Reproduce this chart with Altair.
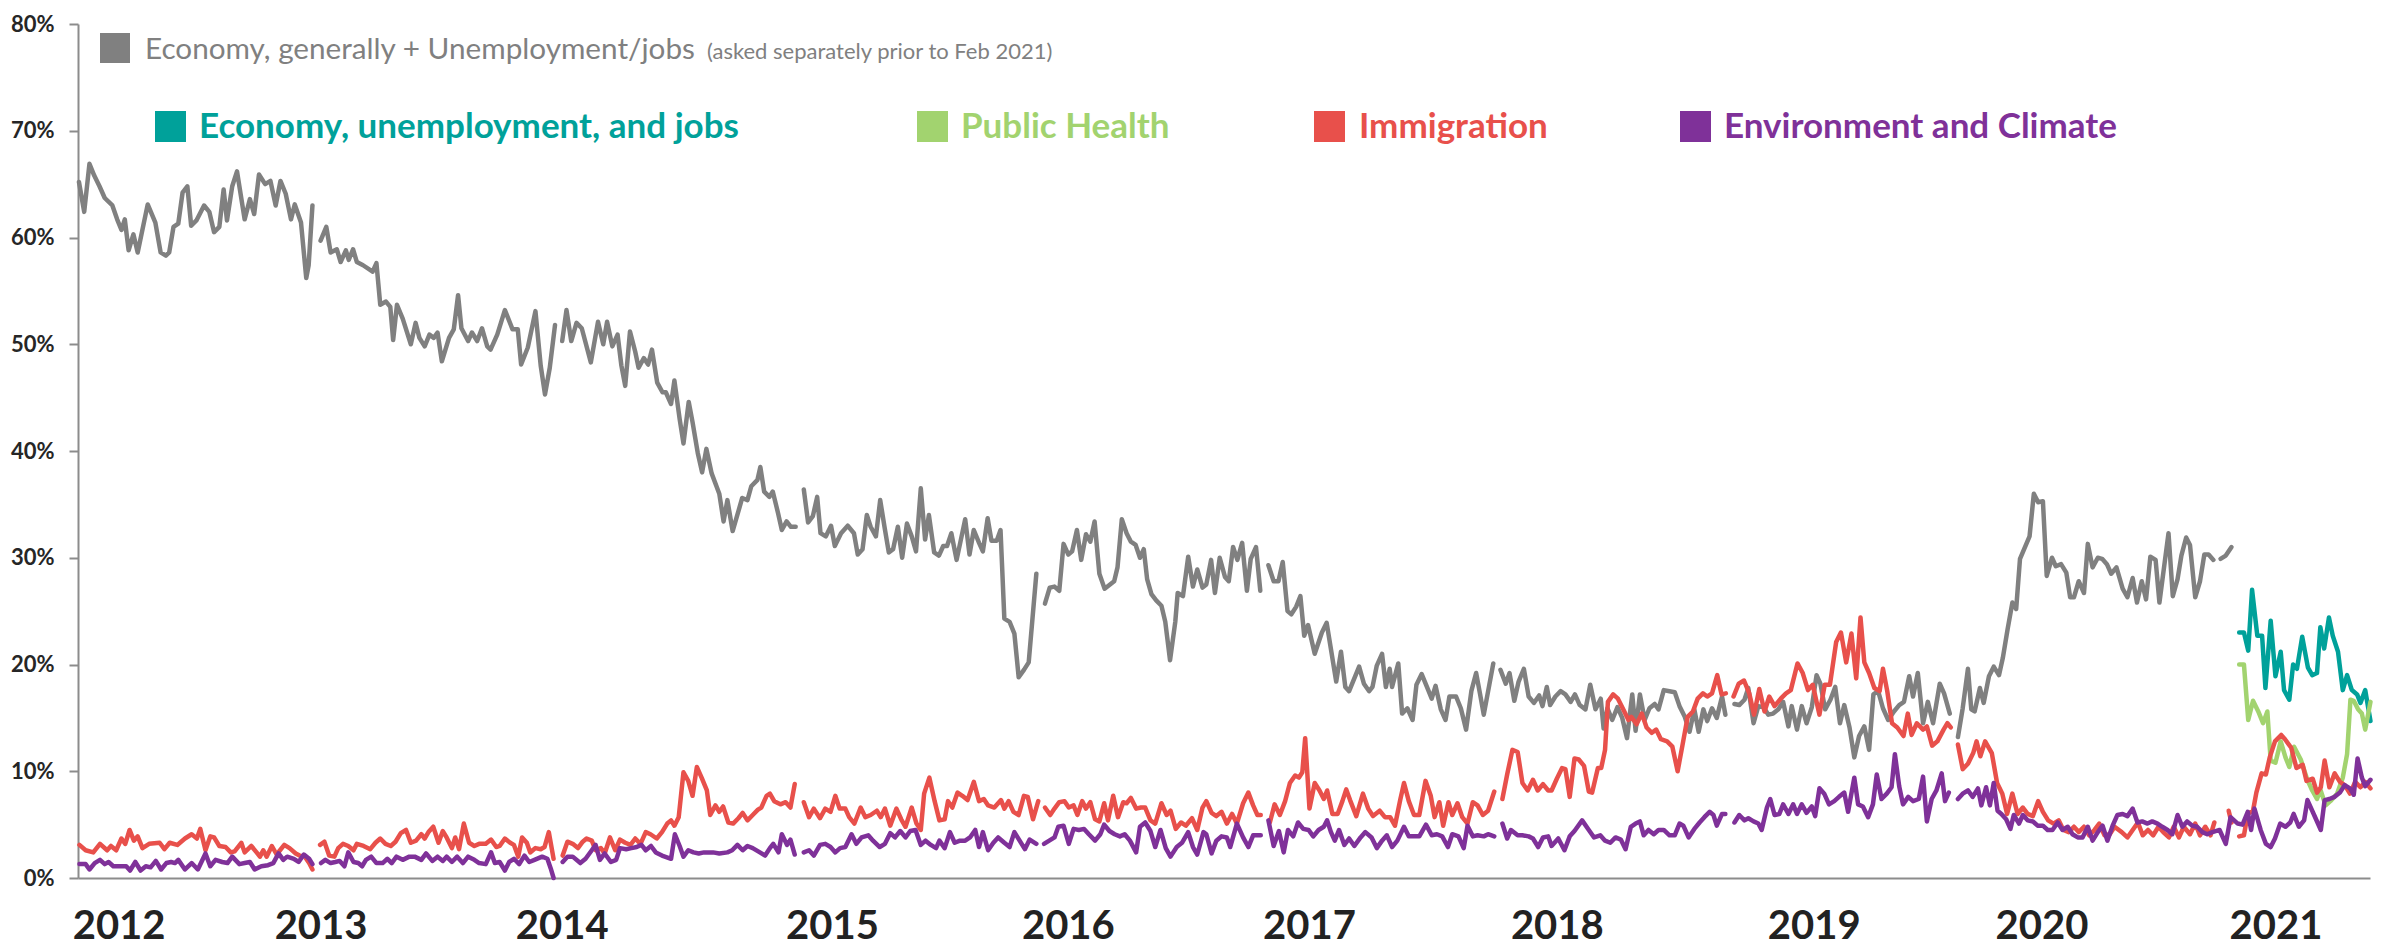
import altair as alt
import pandas as pd

# ---------------- data (week index of poll, percent) ----------------
# Economy, generally + Unemployment/jobs  (segments separated where the line breaks)
ECON_GENERAL = [
    [(0.2,65.2),(1.3,62.4),(2.4,66.9),(3.4,65.8),(4.5,64.8),(5.6,63.7),(7.2,63.0),(8.2,61.7),(9.1,60.7),(9.8,61.7),
     (10.6,58.8),(11.6,60.3),(12.5,58.6),(14.6,63.1),(16.2,61.4),(17.3,58.6),(18.4,58.3),(19.1,58.6),(20.0,61.0),(21.0,61.3),
     (21.9,64.2),(22.9,64.8),(23.7,61.1),(24.8,61.6),(26.4,63.0),(27.5,62.4),(28.5,60.5),(29.6,61.0),(30.5,64.5),(31.2,61.6),
     (32.3,64.8),(33.3,66.2),(34.9,61.7),(36.0,63.6),(36.9,62.2),(37.9,65.9),(39.2,65.0),(40.3,65.3),(41.4,63.0),(42.4,65.3),
     (43.5,64.1),(44.6,61.7),(45.4,63.1),(46.7,61.4),(47.8,56.2),(48.3,57.4),(49.1,63.0)],
    [(50.8,59.7),(52.0,61.0),(52.9,58.6),(54.2,58.9),(55.0,57.7),(56.1,58.8),(56.7,57.9),(57.6,58.9),(58.4,57.7),(59.7,57.4),
     (61.7,56.8),(62.5,57.6),(63.3,53.7),(64.5,54.0),(65.4,53.5),(66.0,50.4),(66.8,53.7),(68.0,52.4),(69.7,50.0),(70.7,52.0),
     (71.5,50.6),(72.6,49.8),(73.6,50.9),(74.5,50.6),(75.3,51.1),(76.2,48.4),(77.7,50.6),(78.7,51.4),(79.6,54.6),(80.3,51.5),
     (81.7,50.3),(82.5,51.1),(83.6,50.3),(84.6,51.5),(85.7,49.8),(86.4,49.5),(87.8,50.9),(89.4,53.2),(91.0,51.4),(92.1,51.4),
     (92.8,48.1),(94.2,49.7),(95.8,53.1),(96.9,48.0),(97.8,45.3),(98.8,47.8),(99.9,51.8)],
    [(101.4,50.3),(102.3,53.2),(103.3,50.3),(104.4,52.0),(105.5,51.5),(107.4,48.3),(108.9,52.1),(110.0,50.0),(110.8,52.1),
     (111.9,49.8),(113.0,50.9),(113.8,48.0),(114.6,46.1),(115.6,51.2),(116.7,49.3),(117.4,47.8),(118.5,48.7),(119.4,48.1),
     (120.2,49.5),(121.3,46.4),(122.4,45.5),(123.1,45.5),(124.2,44.4),(124.9,46.6),(126.0,43.0),(126.8,40.7),(127.9,44.6),
     (128.7,42.7),(129.8,39.8),(130.7,38.0),(131.6,40.2),(132.7,37.9),(134.3,36.0),(135.2,33.4),(136.0,35.4),(137.1,32.5),
     (138.4,34.5),(139.1,35.6),(140.2,35.4),(141.0,36.7),(142.3,37.3),(142.9,38.5),(143.7,36.2),(144.8,35.7),(145.5,36.2),
     (146.6,34.2),(147.4,32.6),(148.4,33.4),(149.3,32.9),(150.3,32.9)],
    [(152.0,36.4),(152.9,33.3),(153.9,33.9),(154.8,35.7),(155.5,32.3),(156.6,32.0),(157.7,33.0),(158.5,31.1),(159.8,32.3),
     (161.2,33.0),(162.5,32.3),(163.3,30.3),(164.3,30.8),(165.2,34.0),(166.0,32.9),(167.1,32.0),(168.0,35.4),(168.9,32.9),
     (169.8,30.5),(170.7,30.8),(171.7,32.9),(172.6,30.0),(173.6,33.2),(174.6,32.0),(175.5,30.6),(176.5,36.5),(177.4,31.7),
     (178.2,34.0),(179.3,30.5),(180.3,30.2),(181.2,31.1),(182.0,31.1),(182.9,32.3),(184.0,29.8),(184.9,31.7),(185.8,33.6),
     (186.7,30.3),(187.6,32.6),(188.7,31.4),(189.5,30.6),(190.5,33.7),(191.3,31.6),(192.4,31.6),(193.2,32.6),(194.0,24.3),
     (195.1,24.0),(196.1,22.9),(197.0,18.8),(198.1,19.5),(199.1,20.2),(200.7,28.5)],
    [(202.5,25.7),(203.5,27.2),(204.5,27.3),(205.5,26.9),(206.4,31.3),(207.4,30.3),(208.2,30.6),(209.2,32.6),(210.1,29.8),
     (211.1,32.2),(212.0,31.5),(212.9,33.4),(213.9,28.5),(215.0,27.1),(217.0,27.8),(217.7,29.1),(218.6,33.6),(219.6,32.3),
     (220.5,31.5),(221.5,31.2),(222.4,30.0),(223.2,30.8),(223.9,28.0),(224.8,26.6),(225.8,26.0),(226.9,25.5),(227.7,24.0),
     (228.7,20.4),(229.8,24.0),(230.3,26.7),(231.4,26.4),(232.5,30.1),(233.5,27.3),(234.4,28.9),(235.5,27.2),(236.3,27.5),
     (237.3,29.8),(238.1,26.7),(239.1,30.0),(240.2,28.2),(241.0,27.8),(241.9,31.0),(242.8,29.8),(243.8,31.4),(244.8,26.9),
     (245.6,29.9),(246.7,31.0),(247.6,26.9)],
    [(249.3,29.3),(250.4,27.8),(251.4,27.8),(252.3,29.6),(253.3,25.0),(254.1,24.7),(255.1,25.4),(256.0,26.4),(256.8,22.7),
     (257.6,23.7),(259.0,21.0),(260.5,23.0),(261.5,23.9),(263.5,18.4),(264.5,21.2),(265.4,17.9),(266.2,17.5),(268.3,19.8),
     (269.3,18.2),(270.4,17.5),(271.1,17.9),(272.0,19.9),(273.1,21.0),(273.9,17.9),(274.7,19.6),(275.2,17.9),(276.5,20.1),
     (277.3,15.4),(278.4,15.9),(279.5,14.8),(280.3,18.1),(281.4,19.1),(282.5,17.9),(283.5,16.8),(284.3,18.0),(285.4,15.8),
     (286.4,14.8),(287.2,17.0),(288.6,17.0),(289.6,15.9),(290.7,13.9),(291.8,17.5),(292.8,19.2),(293.6,17.3),(294.4,15.3),
     (296.4,20.1)],
    [(297.9,19.5),(299.0,18.2),(299.8,19.2),(300.8,16.6),(301.7,18.4),(302.8,19.6),(303.8,17.0),(304.9,16.4),(306.0,17.1),
     (306.7,16.1),(307.6,17.9),(308.3,16.2),(309.4,17.0),(310.5,17.5),(311.5,17.2),(312.6,16.5),(313.5,17.2),(314.5,16.2),
     (315.7,15.8),(316.7,18.1),(317.8,15.8),(318.9,16.8),(319.5,14.0),(320.3,15.9),(321.3,14.8),(322.4,16.0),(323.4,15.0),
     (324.4,13.1),(325.5,17.2),(326.2,13.8),(327.1,17.2),(328.1,14.8),(329.1,15.9),(330.2,16.3),(331.0,15.8),(332.1,17.6),
     (333.3,17.5),(334.4,17.4),(335.4,16.1),(336.5,15.1),(337.5,13.7),(338.5,15.8),(339.4,13.7),(340.4,15.8),(341.2,14.7),
     (342.2,15.9),(343.2,15.0),(344.3,17.0),(345.0,15.3)],
    [(346.9,16.3),(347.9,16.2),(349.0,16.7),(349.8,17.8),(350.9,14.5),(351.9,16.1),(353.0,16.0),(354.0,15.3),(355.0,15.4),
     (356.1,15.8),(357.1,16.5),(358.2,14.2),(358.9,16.1),(360.0,13.9),(361.0,16.1),(362.0,14.5),(363.1,16.0),(364.1,19.0),
     (364.9,18.2),(365.9,15.8),(367.0,16.7),(368.0,17.9),(369.0,14.5),(369.9,16.2),(371.0,14.1),(372.0,11.3),(373.0,13.3),
     (374.1,14.2),(375.1,12.0),(376.0,17.2),(377.0,17.5),(378.0,15.9),(379.1,14.8),(380.3,15.6),(381.4,16.2),(382.4,16.5),
     (383.5,18.9),(384.3,17.0),(385.3,19.2),(386.4,14.5),(387.4,16.5),(388.5,14.5),(389.9,18.2),(390.8,17.3),(392.0,15.4)],
    [(393.7,13.2),(394.7,15.9),(395.8,19.6),(396.5,15.8),(397.2,15.6),(398.3,17.8),(399.1,16.4),(400.2,18.9),(401.2,19.8),
     (402.3,19.0),(403.1,20.6),(404.1,23.3),(405.1,25.8),(405.9,25.2),(406.7,29.9),(408.7,32.0),(409.6,36.0),(410.5,35.2),
     (411.5,35.3),(412.3,28.3),(413.4,30.0),(414.2,29.2),(415.3,29.4),(416.4,28.6),(417.2,26.3),(418.0,26.3),(419.0,27.8),
     (420.1,26.7),(420.9,31.3),(421.9,29.1),(423.0,30.0),(423.9,29.9),(424.9,29.4),(425.8,28.5),(426.9,29.1),(428.2,27.1),
     (429.2,26.3),(430.3,28.1),(431.2,25.8),(432.2,27.8),(433.1,26.1),(434.0,30.1),(435.1,29.8),(435.9,25.8),(437.8,32.3),
     (438.7,26.4),(439.7,28.0),(440.5,30.2),(441.5,31.9),(442.3,31.2),(443.4,26.3),(444.4,27.8),(445.3,30.3),(446.2,30.3),
     (447.2,29.8)],
    [(448.7,29.9),(449.8,30.2),(451.0,31.0)],
]

# Economy, unemployment, and jobs (asked as one item from Feb 2021)
ECON_JOBS = [
    [(452.6,23.0),(453.6,23.0),(454.5,21.3),(455.3,27.0),(456.4,22.7),(457.4,22.7),(458.1,17.8),(459.2,24.1),(460.2,18.9),
     (461.3,21.2),(462.0,17.6),(463.1,16.7),(463.9,20.0),(464.7,19.6),(465.8,22.6),(467.0,19.7),(467.9,19.0),(468.9,19.2),
     (469.6,23.5),(470.4,21.5),(471.4,24.4),(472.2,22.7),(473.3,21.2),(474.3,17.6),(475.2,19.0),(476.2,17.6),(477.3,17.2),
     (478.0,16.4),(479.0,17.6),(480.1,14.7)],
]

PUBLIC_HEALTH = [
    [(452.6,20.0),(453.6,20.0),(454.5,14.8),(455.5,16.6),(456.6,15.6),(457.6,14.5),(458.5,15.6),(459.2,11.0),(460.2,10.8),
     (461.3,12.8),(462.3,11.3),(463.1,10.4),(464.1,12.3),(465.5,11.1),(466.8,9.3),(467.9,8.2),(468.9,7.4),(469.6,8.3),
     (470.7,6.8),(471.7,7.2),(473.1,7.9),(474.3,9.4),(475.2,11.6),(475.9,16.7),(476.6,16.6),(477.5,15.8),(478.3,15.4),
     (479.0,13.9),(480.1,16.5)],
]

IMMIGRATION = [
    [(0.3,3.1),(1.6,2.6),(3.2,2.4),(4.6,3.2),(6.1,2.6),(6.9,3.0),(8.0,2.6),(9.1,3.7),(9.9,3.2),(10.8,4.5),(11.7,3.5),
     (12.5,3.9),(13.5,2.8),(14.9,3.2),(17.1,3.3),(18.1,2.7),(19.2,3.3),(20.8,3.1),(22.4,3.7),(23.8,4.1),(24.9,3.7),(25.6,4.6),
     (26.7,2.6),(27.7,3.9),(28.5,3.8),(29.6,3.0),(30.9,2.9),(32.0,2.4),(32.8,2.5),(34.2,3.3),(34.9,2.4),(36.3,3.0),(37.4,2.4),
     (38.1,2.0),(38.8,2.6),(39.5,2.0),(40.6,3.0),(41.6,2.2),(43.2,3.1),(44.3,2.8),(45.6,2.3),(46.4,2.1),(47.5,2.0),(48.4,1.4),
     (49.1,0.8)],
    [(50.7,3.1),(51.6,3.4),(52.6,2.1),(53.7,2.0),(54.5,2.8),(55.5,3.2),(56.6,3.0),(57.7,2.6),(58.4,3.2),(59.8,3.0),(61.2,2.7),
     (62.3,3.3),(63.3,3.7),(64.4,3.2),(65.5,3.0),(66.5,3.4),(67.6,4.2),(68.7,4.5),(69.7,3.3),(70.8,3.5),(71.9,4.1),(72.6,3.7),
     (73.4,4.3),(74.4,4.8),(75.5,3.3),(76.4,4.4),(77.2,3.8),(78.3,2.8),(79.0,3.8),(79.8,2.7),(80.8,5.1),(81.9,3.3),(83.0,3.0),
     (84.0,3.2),(85.4,3.2),(86.5,3.6),(87.6,2.9),(88.3,3.0),(89.4,3.7),(90.5,3.3),(91.3,3.1),(92.2,2.0),(93.0,3.8),(94.0,3.3),
     (94.7,2.4),(95.8,2.8),(96.9,2.7),(97.7,2.9),(98.6,4.3),(99.6,1.8)],
    [(101.5,2.1),(102.5,3.4),(103.6,3.2),(104.7,2.8),(105.7,3.4),(106.5,3.7),(107.6,3.5),(108.4,2.6),(109.5,2.8),(110.3,2.3),
     (111.4,3.8),(112.5,2.6),(113.5,3.6),(114.6,3.3),(115.7,3.1),(116.7,3.7),(117.8,3.2),(118.9,4.3),(119.9,4.1),(121.2,3.7),
     (122.3,4.3),(123.4,5.1),(124.2,5.4),(124.9,4.9),(125.8,5.7),(126.8,9.9),(127.8,9.1),(128.7,7.7),(129.6,10.4),(130.6,9.4),
     (131.7,8.2),(132.4,5.9),(133.5,6.8),(134.3,6.2),(135.1,6.7),(136.2,5.2),(137.2,5.1),(138.3,5.6),(139.2,6.1),(140.2,5.4),
     (141.3,5.9),(142.4,6.4),(143.1,6.6),(144.2,7.7),(144.9,7.9),(145.8,7.2),(147.1,6.9),(148.2,7.1),(149.2,6.6),(150.1,8.8)],
    [(152.0,7.1),(153.1,5.7),(154.1,6.5),(155.4,5.6),(156.5,6.5),(157.6,6.2),(158.6,7.7),(159.5,6.5),(160.7,6.5),(161.5,5.7),
     (162.6,5.1),(163.9,6.6),(164.9,5.7),(166.0,5.9),(167.3,6.3),(168.1,5.7),(169.0,6.5),(170.1,4.9),(171.4,6.5),(172.4,5.5),
     (173.3,4.8),(174.6,6.6),(175.6,5.1),(176.5,4.5),(177.2,7.9),(178.3,9.4),(179.4,7.2),(180.4,5.4),(181.5,5.5),(182.2,7.2),
     (183.1,6.6),(184.2,8.0),(185.2,7.7),(186.3,7.3),(187.6,9.0),(188.7,7.2),(189.7,7.4),(190.6,6.8),(191.9,6.6),(193.3,7.3),
     (194.0,6.5),(194.9,7.2),(195.9,6.2),(197.0,5.9),(198.1,7.7),(198.9,7.6),(200.0,5.5),(201.1,7.2)],
    [(202.5,6.6),(203.6,5.9),(204.5,6.5),(205.5,7.1),(206.6,7.2),(207.5,6.6),(208.5,6.8),(209.3,5.9),(210.3,7.2),(211.1,6.5),
     (212.0,7.1),(213.0,5.5),(213.9,5.3),(214.9,7.0),(215.7,5.4),(216.8,7.7),(217.8,5.7),(218.9,7.1),(219.6,7.0),(220.5,7.5),
     (221.6,6.5),(222.6,6.6),(223.5,6.6),(224.6,5.4),(225.6,5.1),(226.9,7.0),(228.0,5.9),(228.8,6.3),(229.9,4.6),(231.0,5.2),
     (232.0,4.9),(233.3,5.6),(234.4,4.5),(235.5,6.6),(236.3,7.2),(237.4,6.1),(238.4,5.8),(239.5,6.2),(240.6,5.1),(241.7,6.0),
     (242.7,5.1),(244.0,7.0),(245.1,8.0),(246.1,6.8),(247.0,5.9),(247.7,5.9)],
    [(249.6,5.2),(250.6,6.9),(251.7,5.9),(252.8,7.2),(253.8,8.9),(254.9,9.6),(255.7,9.4),(256.4,9.9),(257.0,13.1),(257.9,6.5),
     (259.0,8.9),(260.0,8.2),(260.9,7.4),(261.6,8.2),(262.7,6.0),(263.8,6.0),(264.8,7.2),(265.6,8.3),(266.4,7.3),(267.7,5.8),
     (269.1,7.9),(270.2,6.5),(271.2,5.8),(272.6,6.3),(273.7,5.7),(274.8,5.7),(275.8,4.9),(276.9,7.3),(277.7,8.9),(278.7,7.2),
     (279.8,5.9),(280.9,5.9),(282.2,9.1),(283.3,7.7),(284.1,5.7),(285.1,7.1),(285.9,4.9),(287.0,7.1),(287.8,5.9),(288.9,7.0),
     (289.9,5.7),(291.0,5.1),(292.1,7.1),(293.1,6.8),(294.2,5.9),(295.3,6.3),(296.6,8.1)],
    [(298.3,7.4),(299.3,9.7),(300.4,12.0),(301.5,11.8),(302.5,8.9),(303.6,8.2),(304.7,9.2),(305.7,8.2),(306.8,8.8),(307.9,8.2),
     (308.6,8.2),(309.7,9.3),(310.8,10.3),(311.5,10.2),(312.4,7.6),(313.4,11.2),(314.3,11.1),(315.4,10.5),(316.4,8.1),
     (317.1,8.0),(318.3,10.3),(319.0,10.3),(319.8,12.0),(320.4,16.5),(321.5,17.2),(322.5,16.8),(323.6,15.8),(324.7,14.8),
     (325.3,15.1),(326.4,14.4),(327.5,15.4),(328.5,14.1),(329.6,13.6),(330.5,13.9),(331.5,13.0),(332.8,12.8),(333.9,12.3),
     (335.0,10.0),(336.0,12.4),(337.1,15.1),(338.2,15.6),(339.2,16.8),(340.3,17.3),(341.2,17.0),(342.2,17.3),(343.3,19.0),
     (344.2,17.2),(345.1,17.3)],
    [(346.7,17.0),(347.8,18.2),(348.9,18.5),(350.0,17.3),(351.0,15.3),(352.1,17.7),(353.2,15.6),(354.2,17.0),(355.3,16.1),
     (356.6,16.8),(357.7,17.3),(358.7,17.6),(360.1,20.1),(361.2,19.2),(362.3,17.6),(363.3,18.1),(364.7,15.3),(365.8,18.1),
     (366.9,18.1),(368.2,22.1),(369.2,23.0),(370.3,20.2),(371.4,22.9),(372.4,18.7),(373.3,24.4),(374.1,20.2),(375.1,19.2),
     (376.2,17.8),(377.3,17.5),(378.0,19.6),(378.9,17.5),(379.9,14.5),(381.0,14.1),(382.3,13.3),(383.2,15.4),(384.0,13.4),
     (385.1,14.5),(386.4,13.9),(387.2,14.2),(388.3,12.4),(389.4,12.8),(390.7,13.9),(391.5,14.5),(392.2,14.1)],
    [(393.7,12.5),(394.7,10.2),(395.8,10.7),(396.9,11.7),(397.6,12.8),(398.4,11.4),(399.4,12.8),(400.8,11.7),(401.9,8.9),
     (403.0,7.9),(404.0,6.0),(405.1,7.9),(406.2,6.0),(407.3,6.6),(408.3,6.0),(409.4,5.8),(410.5,7.2),(411.5,6.2),(412.6,5.4),
     (413.7,5.1),(414.8,5.4),(415.8,4.5),(416.9,4.3),(418.0,4.8),(419.0,4.3),(420.1,4.8),(421.2,4.0),(422.3,4.5),(423.3,5.1),
     (424.4,4.0),(425.5,4.1),(426.5,4.8),(428.0,4.3),(429.2,3.8),(430.3,4.5),(431.4,5.2),(432.4,4.0),(433.5,4.5),(434.6,4.0),
     (435.7,4.8),(436.7,4.3),(437.9,3.8),(438.9,4.8),(440.0,3.8),(441.0,4.8),(442.3,4.1),(443.4,5.1),(444.4,4.0),(445.5,4.8),
     (446.6,4.0),(447.4,5.2)],
    [(450.4,6.3),(451.0,5.2)],
    [(452.6,3.9),(453.6,4.0),(454.4,6.0),(455.5,6.3),(456.2,8.0),(457.3,9.8),(458.2,9.7),(459.0,11.3),(460.1,12.8),(461.4,13.4),
     (462.2,13.0),(463.5,12.2),(464.6,10.3),(465.9,10.6),(466.7,9.1),(468.0,9.3),(468.9,8.0),(469.7,8.5),(470.5,11.0),(471.5,8.5),
     (472.6,9.8),(473.7,9.0),(474.7,8.7),(475.8,7.9),(476.9,9.0),(478.0,8.5),(479.0,9.0),(480.1,8.4)],
]

ENVIRONMENT = [
    [(0.3,1.3),(1.6,1.3),(2.4,0.8),(3.5,1.4),(4.6,1.7),(5.6,1.3),(6.4,1.5),(7.4,1.1),(9.0,1.1),(10.1,1.1),(10.9,0.7),(12.0,1.5),
     (13.1,0.7),(14.2,1.1),(15.2,1.0),(16.3,1.6),(17.4,0.8),(18.5,1.4),(19.5,1.5),(20.3,1.4),(21.0,1.7),(22.4,0.8),(23.8,1.4),
     (25.1,0.8),(26.7,2.3),(27.7,1.1),(28.8,1.7),(30.2,1.5),(31.3,1.4),(32.3,2.0),(33.8,1.3),(34.9,1.4),(36.0,1.5),(37.0,0.8),
     (38.4,1.1),(39.8,1.2),(40.9,1.4),(42.0,2.3),(43.0,1.7),(43.8,2.0),(45.2,1.8),(46.2,1.5),(47.3,2.2),(48.4,1.8),(49.1,1.3)],
    [(50.9,1.4),(51.8,1.7),(52.9,1.4),(53.9,1.5),(54.8,1.6),(55.8,1.1),(56.6,2.4),(57.7,1.5),(58.7,1.4),(59.5,1.1),(60.3,1.7),
     (61.4,2.0),(62.5,1.4),(63.8,1.4),(64.8,1.8),(65.7,1.4),(66.7,2.0),(68.0,1.7),(69.4,2.0),(70.5,2.0),(71.9,1.7),(72.9,2.3),
     (74.2,1.6),(75.3,2.0),(76.4,1.6),(77.2,2.0),(78.3,1.5),(79.4,2.0),(80.6,1.4),(81.7,2.0),(83.0,1.7),(84.0,1.4),(85.4,1.3),
     (86.5,2.4),(87.3,1.4),(88.3,1.5),(89.4,0.7),(90.3,1.5),(91.3,1.8),(92.4,1.3),(93.5,2.1),(94.5,1.5),(95.6,1.7),(97.2,2.0),
     (98.3,1.8),(99.0,0.9),(99.6,0.0)],
    [(101.5,1.5),(102.5,2.0),(103.6,2.0),(105.2,1.4),(106.3,1.8),(107.6,2.6),(108.4,3.1),(109.3,1.7),(110.3,2.3),(111.6,1.5),
     (112.7,1.7),(113.5,2.8),(114.8,2.7),(115.9,2.8),(117.0,2.9),(118.0,3.1),(118.9,2.6),(120.0,3.0),(121.0,2.4),(122.3,2.1),
     (124.2,1.8),(125.0,4.1),(126.0,3.0),(126.8,2.0),(127.8,2.6),(128.9,2.4),(130.0,2.3),(131.1,2.4),(133.0,2.4),(134.3,2.3),
     (136.0,2.4),(137.0,2.6),(138.1,3.1),(139.2,2.6),(140.2,3.0),(141.3,2.8),(142.8,2.4),(143.9,2.1),(144.9,2.8),(145.6,3.2),
     (146.7,2.4),(147.4,4.1),(148.5,3.1),(149.2,3.6),(150.1,2.2)],
    [(152.0,2.4),(153.1,2.6),(154.1,2.1),(155.4,3.1),(156.5,3.2),(157.6,2.9),(158.6,2.4),(159.6,2.8),(160.7,2.9),(162.0,4.1),
     (163.0,3.2),(164.1,3.8),(165.5,4.0),(166.5,3.5),(167.9,2.9),(169.0,3.2),(170.1,4.2),(171.1,3.8),(172.2,4.4),(173.3,3.8),
     (174.3,4.4),(175.4,4.5),(176.5,3.1),(177.5,3.5),(178.6,3.1),(179.7,2.8),(180.4,3.5),(181.5,2.8),(182.6,4.3),(183.6,3.3),
     (184.7,3.5),(185.8,3.5),(186.8,3.8),(187.9,4.5),(188.7,2.9),(189.5,4.3),(190.6,2.6),(191.7,3.3),(192.7,3.8),(194.0,3.3),
     (195.1,2.9),(196.1,4.3),(197.2,3.5),(198.3,2.7),(199.3,3.6),(200.7,3.2)],
    [(202.3,3.2),(203.4,3.5),(204.5,3.8),(205.3,4.8),(206.4,4.9),(207.5,3.2),(208.5,4.6),(209.6,4.5),(210.7,4.6),(211.7,4.1),
     (213.0,3.5),(214.1,4.1),(214.9,5.0),(216.0,4.4),(217.1,4.1),(218.2,3.9),(219.2,4.1),(220.3,3.5),(221.6,2.4),(222.4,4.8),
     (223.5,5.2),(224.6,4.4),(225.6,2.9),(226.7,4.5),(227.8,2.8),(228.8,2.0),(230.1,2.9),(231.2,3.3),(232.5,4.3),(233.5,2.9),
     (234.4,2.2),(235.7,4.3),(236.3,4.1),(237.4,2.3),(238.4,3.5),(239.5,3.9),(240.6,3.8),(241.3,2.9),(242.7,5.1),(244.0,3.8),
     (245.1,2.9),(246.1,4.0),(247.7,4.0)],
    [(249.3,5.4),(250.4,3.0),(251.5,4.4),(252.5,2.4),(253.4,4.5),(254.5,3.9),(255.5,5.2),(256.6,4.6),(257.7,4.5),(258.7,3.9),
     (259.8,4.5),(260.9,4.8),(261.6,5.4),(262.4,4.3),(263.2,3.5),(264.1,4.5),(265.2,3.1),(266.2,3.7),(267.3,3.0),(268.6,3.8),
     (269.6,4.3),(270.9,3.8),(272.0,2.8),(273.1,3.5),(274.1,4.0),(275.2,2.9),(276.3,3.5),(277.7,4.8),(278.7,3.9),(279.8,3.9),
     (280.9,3.9),(282.3,5.0),(283.5,4.0),(284.6,4.1),(285.7,3.9),(286.9,2.9),(287.8,4.1),(289.1,3.9),(290.2,2.8),(291.0,4.9),
     (292.1,3.9),(293.1,4.0),(294.4,3.9),(295.3,4.1),(296.6,3.9)],
    [(298.3,5.1),(299.3,3.7),(300.1,4.5),(301.5,4.0),(302.5,4.0),(303.8,3.9),(304.7,3.7),(305.8,2.9),(306.8,3.8),(307.9,3.9),
     (308.6,3.0),(310.0,3.7),(311.3,2.6),(312.4,3.9),(313.4,4.4),(315.0,5.4),(316.4,4.5),(317.5,3.8),(318.8,4.0),(319.8,3.5),
     (320.9,3.3),(322.0,3.8),(323.1,3.6),(324.1,2.7),(325.2,4.8),(326.2,5.1),(327.1,5.3),(327.9,4.0),(328.9,4.5),(330.0,4.1),
     (331.0,4.5),(332.1,4.5),(333.3,4.0),(334.4,4.0),(335.4,5.1),(336.2,4.9),(337.3,3.8),(338.5,4.6),(339.6,5.2),(340.6,5.7),
     (341.7,6.2),(342.5,5.9),(343.2,4.9),(344.3,6.0),(345.0,6.0)],
    [(346.9,5.2),(347.9,5.9),(349.0,5.4),(349.8,5.6),(350.9,5.3),(351.9,5.1),(352.6,4.5),(353.7,6.6),(354.4,7.4),(355.3,5.9),
     (356.3,6.0),(357.1,6.9),(358.2,6.0),(359.2,6.9),(360.0,6.0),(361.0,6.9),(362.0,6.1),(363.1,6.7),(363.8,5.8),(364.7,8.4),
     (365.7,7.9),(366.7,6.9),(367.8,7.2),(368.8,7.6),(369.9,8.0),(370.7,6.2),(372.0,9.4),(372.8,6.9),(373.8,6.7),(374.9,5.7),
     (375.9,6.9),(376.7,9.7),(377.7,7.4),(378.8,7.9),(379.8,8.5),(380.5,11.6),(381.4,8.6),(382.2,6.9),(383.3,7.6),(384.3,7.2),
     (385.5,7.4),(386.4,9.5),(387.2,5.3),(388.2,7.4),(389.2,8.2),(390.3,9.8),(391.0,7.2),(391.8,8.0)],
    [(393.7,7.4),(394.7,7.9),(395.8,8.2),(396.8,7.6),(397.9,8.4),(398.6,6.8),(399.6,8.5),(400.4,6.8),(401.2,8.9),(402.0,6.3),
     (402.8,6.0),(403.8,5.5),(404.7,4.6),(405.4,5.9),(406.5,5.1),(407.3,5.9),(408.3,5.4),(409.4,5.3),(410.4,4.9),(411.5,4.9),
     (412.5,4.5),(413.5,4.5),(414.6,5.2),(415.6,4.5),(416.7,4.8),(417.7,4.1),(418.8,3.8),(419.8,3.8),(420.9,4.8),(421.9,3.5),
     (423.0,4.3),(424.0,4.9),(425.0,3.5),(426.1,4.9),(427.1,5.9),(428.2,6.0),(429.2,5.8),(430.3,6.5),(431.3,5.2),(432.3,5.3),
     (433.4,5.1),(434.4,5.3),(435.5,5.1),(436.5,4.8),(437.6,4.5),(438.6,4.1),(439.7,5.9),(440.7,4.8),(441.7,5.3),(442.8,4.9),
     (443.8,4.8),(444.9,4.3),(445.9,4.1),(447.0,4.3),(448.5,4.5),(449.8,3.2),(450.8,5.7),(452.3,5.1),(453.3,5.0),(454.4,6.2),
     (455.1,4.5),(455.8,6.5),(457.1,4.5),(458.2,3.2),(459.2,2.9),(460.1,3.7),(461.2,5.1),(462.3,4.8),(463.3,5.2),(464.0,6.0),
     (465.1,4.8),(466.2,5.4),(466.9,7.3),(468.3,5.9),(469.7,4.5),(470.5,7.3),(471.5,7.4),(472.6,7.6),(473.7,8.0),(474.7,8.7),
     (475.8,8.4),(476.6,7.8),(477.4,11.2),(478.3,9.4),(479.0,8.6),(480.1,9.2)],
]

YEAR_LABELS = ["2012", "2013", "2014", "2015", "2016", "2017", "2018", "2019", "2020", "2021"]
YEAR_WEEKS = [8.5, 50.8, 101.3, 157.9, 207.3, 257.8, 309.7, 363.5, 411.2, 460.2]
Y_TICKS = [0, 10, 20, 30, 40, 50, 60, 70, 80]

SERIES = [
    ("Economy, generally + Unemployment/jobs", ECON_GENERAL, "#808080"),
    ("Economy, unemployment, and jobs", ECON_JOBS, "#00A19A"),
    ("Public Health", PUBLIC_HEALTH, "#A2D36F"),
    ("Immigration", IMMIGRATION, "#E8504B"),
    ("Environment and Climate", ENVIRONMENT, "#7F3199"),
]

# ---------------- build table ----------------
rows = []
for name, segs, _ in SERIES:
    for k, seg in enumerate(segs):
        for w, v in seg:
            rows.append({"series": name, "seg": f"{name}|{k}", "week": w, "pct": v})
df = pd.DataFrame(rows)

# year label expression
parts = []
for i, lab in enumerate(YEAR_LABELS[:-1]):
    mid = (YEAR_WEEKS[i] + YEAR_WEEKS[i + 1]) / 2
    parts.append(f"datum.value < {mid} ? '{lab}' : ")
year_expr = "".join(parts) + f"'{YEAR_LABELS[-1]}'"

AXIS_GREY = "#8C8C8C"
FONT = "Lato"

x_enc = alt.X(
    "week:Q",
    scale=alt.Scale(domain=[0, 480], nice=False, zero=False),
    axis=alt.Axis(
        values=YEAR_WEEKS, labelExpr=year_expr, title=None, grid=False,
        ticks=False, tickSize=0, domain=True, domainColor=AXIS_GREY, domainWidth=2,
        labelFont=FONT, labelFontSize=40, labelFontWeight="bold", labelColor="#222222",
        labelPadding=28, labelFlush=False, labelOverlap=False, labelBound=False, labelAngle=0,
    ),
)
y_enc = alt.Y(
    "pct:Q",
    scale=alt.Scale(domain=[0, 80], nice=False),
    axis=alt.Axis(
        values=Y_TICKS, labelExpr="datum.value + '%'", title=None, grid=False,
        ticks=True, tickSize=9, tickWidth=2, tickColor=AXIS_GREY,
        domain=True, domainColor=AXIS_GREY, domainWidth=2,
        labelFont=FONT, labelFontSize=22, labelFontWeight="bold", labelColor="#262626",
        labelPadding=15, labelFlush=False, labelOverlap=False,
    ),
)

layers = []
for name, _, color in SERIES:
    layers.append(
        alt.Chart(df[df["series"] == name])
        .mark_line(color=color, strokeWidth=4.5, strokeJoin="round", strokeCap="round")
        .encode(x=x_enc, y=y_enc, detail="seg:N", order="week:Q")
    )

# ---------------- legend (manual, positioned like the original) ----------------
def swatch(color, x0, y0, size=31):
    return alt.Chart(pd.DataFrame({"k": [0]})).mark_rect(color=color).encode(
        x=alt.value(x0), x2=alt.value(x0 + size), y=alt.value(y0), y2=alt.value(y0 + size)
    )

def label(text, color, x0, y0, size, weight="normal"):
    return alt.Chart(pd.DataFrame({"t": [text]})).mark_text(
        align="left", baseline="alphabetic", font=FONT, fontSize=size,
        fontWeight=weight, color=color,
    ).encode(x=alt.value(x0), y=alt.value(y0), text="t:N")

legend = [
    swatch("#808080", 22, 9, 30),
    label("Economy, generally + Unemployment/jobs", "#808080", 67, 35, 29.7),
    label("(asked separately prior to Feb 2021)", "#808080", 629, 35, 22),
    swatch("#00A19A", 77, 87),
    label("Economy, unemployment, and jobs", "#00A19A", 121, 114, 35, "bold"),
    swatch("#A2D36F", 839, 87),
    label("Public Health", "#A2D36F", 883, 114, 35, "bold"),
    swatch("#E8504B", 1236, 87),
    label("Immigration", "#E8504B", 1281, 114, 35, "bold"),
    swatch("#7F3199", 1602, 87),
    label("Environment and Climate", "#7F3199", 1646, 114, 35, "bold"),
]

chart = (
    alt.layer(*layers, *legend)
    .properties(
        width=2292, height=854,
        autosize=alt.AutoSizeParams(type="none"),
        padding={"left": 70, "top": 16, "right": 4, "bottom": 70},
        background="white",
    )
    .configure_view(strokeWidth=0)
)

chart.save("out.html", embed_options={"renderer": "svg", "actions": False})
